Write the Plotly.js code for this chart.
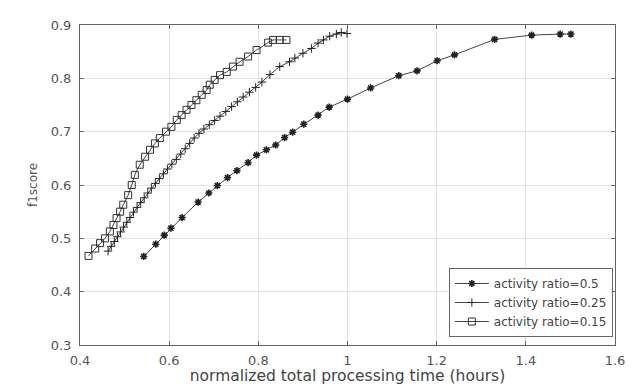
<!DOCTYPE html>
<html>
<head>
<meta charset="utf-8">
<script src="https://cdn.plot.ly/plotly-3.0.1.min.js"></script>
<style>html,body{margin:0;padding:0;background:#fff;}#chart{width:641px;height:385px;}</style>
</head>
<body>
<div id="chart"></div>
<script>
// activity ratio = 0.5
var x50 = [0.543,0.570,0.589,0.604,0.629,0.665,0.689,0.708,0.731,0.752,0.777,0.796,0.818,0.839,0.859,0.877,0.902,0.934,0.959,1.000,1.052,1.115,1.156,1.201,1.240,1.330,1.413,1.477,1.501];
var y50 = [0.466,0.489,0.506,0.519,0.539,0.568,0.585,0.599,0.614,0.627,0.642,0.656,0.666,0.675,0.689,0.699,0.714,0.731,0.746,0.761,0.782,0.805,0.814,0.833,0.844,0.873,0.881,0.883,0.883];
// activity ratio = 0.25
var x25 = [0.463,0.470,0.477,0.484,0.491,0.498,0.505,0.512,0.520,0.528,0.536,0.544,0.552,0.560,0.569,0.578,0.587,0.596,0.606,0.616,0.626,0.636,0.646,0.656,0.667,0.678,0.690,0.702,0.714,0.727,0.740,0.753,0.766,0.780,0.794,0.808,0.826,0.848,0.870,0.882,0.900,0.919,0.934,0.946,0.960,0.975,0.986,0.999];
var y25 = [0.476,0.485,0.494,0.503,0.512,0.521,0.530,0.539,0.549,0.558,0.567,0.576,0.585,0.594,0.603,0.612,0.621,0.630,0.639,0.648,0.658,0.668,0.678,0.688,0.697,0.705,0.713,0.721,0.729,0.738,0.747,0.756,0.765,0.774,0.783,0.793,0.807,0.822,0.831,0.838,0.847,0.856,0.866,0.872,0.879,0.883,0.886,0.884];
// activity ratio = 0.15
var x15 = [0.419,0.434,0.445,0.456,0.467,0.475,0.482,0.490,0.497,0.508,0.516,0.523,0.534,0.546,0.557,0.568,0.579,0.593,0.605,0.617,0.628,0.639,0.650,0.661,0.673,0.684,0.691,0.702,0.714,0.729,0.743,0.758,0.777,0.796,0.822,0.833,0.848,0.863];
var y15 = [0.467,0.481,0.491,0.500,0.513,0.525,0.538,0.550,0.563,0.581,0.600,0.619,0.638,0.653,0.666,0.678,0.688,0.700,0.709,0.722,0.731,0.741,0.750,0.759,0.769,0.778,0.788,0.797,0.806,0.812,0.822,0.831,0.841,0.853,0.867,0.872,0.872,0.872];
var names = ["activity ratio=0.5","activity ratio=0.25","activity ratio=0.15"];
var xTicks = [0.4,0.6,0.8,1,1.2,1.4,1.6];
var xTickText = ["0.4","0.6","0.8","1","1.2","1.4","1.6"];
var yTicks = [0.3,0.4,0.5,0.6,0.7,0.8,0.9];
var yTickText = ["0.3","0.4","0.5","0.6","0.7","0.8","0.9"];

var FONT = 'DejaVu Sans, Verdana, sans-serif';
var lineStyle = {color:'#444444', width:1};
var traces = [
  {x:x50, y:y50, name:names[0], mode:'lines+markers', line:lineStyle,
   marker:{symbol:'asterisk-open', size:6, color:'#222', line:{color:'#222', width:1.6}}},
  {x:x25, y:y25, name:names[1], mode:'lines+markers', line:lineStyle,
   marker:{symbol:'cross-thin-open', size:6, color:'#222', line:{color:'#222', width:1}}},
  {x:x15, y:y15, name:names[2], mode:'lines+markers', line:lineStyle,
   marker:{symbol:'square-open', size:7, color:'#333', line:{color:'#333', width:1}}}
];
var axisCommon = {
  showline:true, mirror:'ticks', linecolor:'#666', linewidth:1,
  ticks:'inside', ticklen:4, tickcolor:'#666',
  showgrid:true, gridcolor:'#e3e3e3', gridwidth:1, zeroline:false,
  tickfont:{family:FONT, size:13, color:'#555'}
};
var layout = {
  width:641, height:385,
  margin:{l:80, r:26, t:25, b:40},
  paper_bgcolor:'#ffffff', plot_bgcolor:'#ffffff',
  showlegend:true,
  xaxis:Object.assign({}, axisCommon, {
    range:[0.4,1.6], tickmode:'array', tickvals:xTicks, ticktext:xTickText,
    ticklabelstandoff:3,
    title:{text:'normalized total processing time (hours)', standoff:3,
      font:{family:FONT, size:15.5, color:'#444'}}
  }),
  yaxis:Object.assign({}, axisCommon, {
    range:[0.3,0.9], tickmode:'array', tickvals:yTicks, ticktext:yTickText,
    ticklabelstandoff:5,
    title:{text:'f1score', standoff:10,
      font:{family:FONT, size:12, color:'#555'}}
  }),
  legend:{
    x:0.996, xanchor:'right', y:0.025, yanchor:'bottom',
    bgcolor:'#ffffff', bordercolor:'#666', borderwidth:1,
    font:{family:FONT, size:12, color:'#444'},
    tracegroupgap:0, itemwidth:34, entrywidth:184, entrywidthmode:'pixels'
  }
};
Plotly.newPlot('chart', traces, layout, {displayModeBar:false, staticPlot:true});
</script>
</body>
</html>
